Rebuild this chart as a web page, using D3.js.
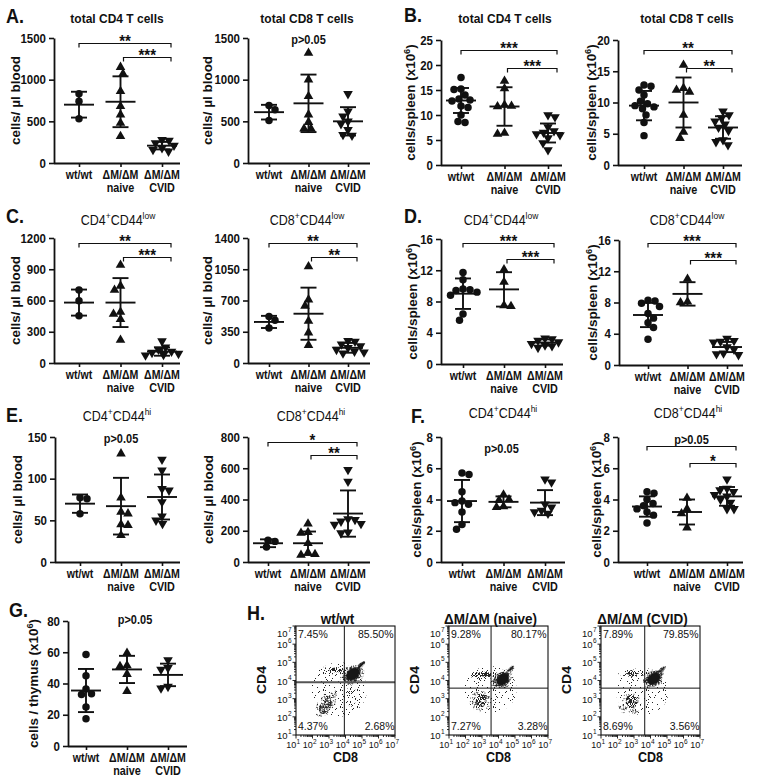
<!DOCTYPE html>
<html><head><meta charset="utf-8">
<script src="https://cdn.jsdelivr.net/npm/d3@7/dist/d3.min.js"></script>
<style>
html,body{margin:0;padding:0;background:#fff;}
svg{display:block;font-family:Arial,"Liberation Sans",Helvetica,sans-serif;}
</style></head><body>
<svg id="fig" width="757" height="779" viewBox="0 0 757 779"></svg>
<script>
// ================= DATA =================
const groups = ["wt/wt", "ΔM/ΔM naive", "ΔM/ΔM CVID"];
const groupLine1 = ["wt/wt", "ΔM/ΔM", "ΔM/ΔM"];
const groupLine2 = ["", "naive", "CVID"];

const ticksA = [0, 500, 1000, 1500];
const ticksB1 = [0, 5, 10, 15, 20, 25];
const ticksB2 = [0, 5, 10, 15, 20];
const ticksC1 = [0, 300, 600, 900, 1200];
const ticksC2 = [0, 350, 700, 1050, 1400];
const ticksD = [0, 4, 8, 12, 16];
const ticksE1 = [0, 50, 100, 150];
const ticksE2 = [0, 200, 400, 600, 800];
const ticksF = [0, 2, 4, 6, 8];
const ticksG = [0, 20, 40, 60, 80];

// A: blood, total CD4 / CD8
const ptsA1 = [[830, 740, 530], [1150, 1070, 860, 680, 580, 480, 320], [280, 270, 240, 210, 180, 160, 140]];
const meanA1 = [700, 735, 208];
const sdA1 = [155, 305, 45];
const sigA1 = [[0, 2, 1440, "**"], [1, 2, 1272, "***"]];

const ptsA2 = [[690, 640, 510], [1320, 1000, 800, 580, 490, 410, 410], [830, 620, 560, 500, 470, 400, 340, 330]];
const meanA2 = [610, 716, 500];
const sdA2 = [88, 345, 170];
const noteA2 = [1, 1428, "p>0.05"];

// B: spleen, total CD4 / CD8 (x10^6)
const ptsB1 = [[17.5, 15.2, 15.1, 14.0, 13.2, 13.0, 12.8, 11.8, 11.5, 10.0, 8.7, 8.5], [16.8, 15.3, 12.0, 11.8, 11.7, 6.4, 6.2], [10.0, 9.6, 7.6, 6.8, 6.5, 6.2, 6.0, 5.4, 4.4, 3.0]];
const meanB1 = [12.9, 11.7, 6.4];
const sdB1 = [2.5, 3.85, 1.9];
const sigB1 = [[0, 2, 23, "***"], [1, 2, 19.4, "***"]];

const ptsB2 = [[12.8, 12.6, 12.0, 11.2, 10.2, 9.8, 9.5, 9.3, 9.0, 8.0, 6.8, 4.7], [16.0, 12.3, 12.0, 11.7, 8.0, 5.3, 4.3], [8.6, 8.0, 7.5, 7.0, 6.5, 6.0, 5.5, 4.0, 3.7, 3.2]];
const meanB2 = [9.5, 10.0, 6.0];
const sdB2 = [2.35, 4.0, 1.8];
const sigB2 = [[0, 2, 18.4, "**"], [1, 2, 15.5, "**"]];

// C: blood CD44low
const ptsC1 = [[700, 598, 454], [940, 740, 700, 490, 470, 420, 220], [210, 150, 130, 110, 100, 90, 80, 75]];
const meanC1 = [580, 580, 110];
const sdC1 = [125, 235, 40];
const sigC1 = [[0, 2, 1152, "**"], [1, 2, 1018, "***"]];

const ptsC2 = [[520, 478, 392], [1080, 710, 640, 470, 340, 200], [250, 240, 210, 190, 170, 150, 130, 120, 110]];
const meanC2 = [460, 552, 170];
const sdC2 = [68, 292, 55];
const sigC2 = [[0, 2, 1344, "**"], [1, 2, 1187, "**"]];

// D: spleen CD44low
const ptsD1 = [[11.7, 10.8, 9.6, 9.5, 9.4, 9.2, 8.8, 6.4, 5.6], [12.1, 10.5, 7.5, 7.4], [3.3, 3.2, 3.0, 2.8, 2.6, 2.4, 2.3, 2.1]];
const meanD1 = [9.0, 9.55, 2.75];
const sdD1 = [1.95, 2.2, 0.4];
const sigD1 = [[0, 2, 15.5, "***"], [1, 2, 13.4, "***"]];

const ptsD2 = [[8.3, 8.2, 7.9, 7.5, 6.6, 6.0, 5.4, 4.8, 3.3], [11.0, 8.1, 8.0], [3.4, 3.1, 3.0, 2.9, 2.3, 2.0, 1.5, 1.4, 1.3]];
const meanD2 = [6.4, 9.1, 2.3];
const sdD2 = [1.55, 1.5, 0.65];
const sigD2 = [[0, 2, 15.6, "***"], [1, 2, 13.4, "***"]];

// E: blood CD44hi
const ptsE1 = [[77, 76, 58], [130, 77, 60, 58, 45, 44, 32], [123, 110, 88, 86, 72, 55, 50, 46]];
const meanE1 = [70, 67, 78];
const sdE1 = [11, 34, 27];
const noteE1 = [1, 143, "p>0.05"];

const ptsE2 = [[140, 132, 96], [245, 190, 185, 120, 60, 50, 45], [590, 515, 275, 270, 260, 245, 240, 190, 185]];
const meanE2 = [120, 120, 310];
const sdE2 = [25, 75, 148];
const sigE2 = [[0, 2, 768, "*"], [1, 2, 685, "**"]];

// F: spleen CD44hi
const ptsF1 = [[5.7, 5.6, 4.5, 3.9, 3.8, 3.7, 3.2, 2.4, 2.1], [4.3, 4.0, 3.95, 3.55, 3.5], [5.3, 5.1, 3.7, 3.5, 3.3, 3.2, 3.1]];
const meanF1 = [3.9, 3.85, 3.8];
const sdF1 = [1.35, 0.35, 0.8];
const noteF1 = [1, 6.98, "p>0.05"];

const ptsF2 = [[4.5, 4.4, 4.0, 3.75, 3.6, 3.4, 3.2, 3.0, 2.5], [4.1, 3.4, 3.1, 2.2], [5.3, 4.7, 4.6, 4.5, 4.3, 4.2, 4.0, 3.8, 3.4, 3.4]];
const meanF2 = [3.55, 3.2, 4.2];
const sdF2 = [0.65, 0.8, 0.6];
const sigF2 = [[0, 2, 7.42, "p>0.05"], [1, 2, 6.34, "*"]];

// G: thymus
const ptsG = [[58.5, 45, 36.5, 33.5, 33, 25, 17.5], [59.5, 51.5, 51, 46, 35], [55, 50, 49, 38, 37]];
const meanG = [35.5, 49, 45.5];
const sdG = [13.8, 8.7, 7.2];
const noteG = [1, 78, "p>0.05"];

// titles / labels
const titleTotCD4 = [["total CD4 T cells"]];
const titleTotCD8 = [["total CD8 T cells"]];
const titleCD4low = [["CD4"], ["+", 1], ["CD44"], ["low", 1]];
const titleCD8low = [["CD8"], ["+", 1], ["CD44"], ["low", 1]];
const titleCD4hi = [["CD4"], ["+", 1], ["CD44"], ["hi", 1]];
const titleCD8hi = [["CD8"], ["+", 1], ["CD44"], ["hi", 1]];
const ylabBlood = [["cells/ µl blood"]];
const ylabSpleen = [["cells/spleen (x10"], ["6", 1], [")"]];
const ylabThymus = [["cells / thymus (x10"], ["6", 1], [")"]];

// H: flow cytometry (log10 CD8, log10 CD4)
const flowTitles = ["wt/wt", "ΔM/ΔM (naive)", "ΔM/ΔM (CVID)"];
const flowPct = [["7.45%", "85.50%", "4.37%", "2.68%"], ["9.28%", "80.17%", "7.27%", "3.28%"], ["7.89%", "79.85%", "8.69%", "3.56%"]];
const flowGates = [[3.93, 3.9], [3.55, 3.58], [3.65, 3.58]];
const flowDecades = [1, 2, 3, 4, 5, 6, 7];
// event clusters: [centre log CD8, centre log CD4, half-width (decades), half-height (decades), tilt deg, density level]
const flowClustersWt = [
  [3.6, 3.5, 1.7, 1.5, 0, 0], [2.85, 2.75, 0.95, 0.45, 55, 1], [2.8, 2.6, 0.55, 0.3, 55, 2], [4.35, 3.15, 0.3, 0.6, 0, 1],
  [3.2, 4.55, 0.85, 0.2, 0, 1], [3.45, 4.58, 0.42, 0.13, 0, 2], [4.4, 4.3, 0.8, 0.55, 35, 1],
  [4.4, 4.3, 0.62, 0.44, 38, 2],
  [4.85, 4.75, 0.45, 0.13, 45, 2], [4.45, 4.35, 0.46, 0.31, 40, 3], [4.95, 4.85, 0.3, 0.07, 45, 3]];
const flowClustersNaive = [
  [3.5, 3.5, 1.6, 1.3, 0, 0], [2.9, 2.85, 0.65, 0.6, 30, 1], [2.95, 2.9, 0.32, 0.38, 0, 2],
  [4.2, 3.05, 0.35, 0.45, 0, 0], [3.05, 4.3, 0.85, 0.22, 0, 1], [3.1, 4.35, 0.48, 0.13, 0, 2],
  [4.2, 4.05, 0.75, 0.5, 35, 1], [4.2, 4.05, 0.58, 0.4, 38, 2],
  [4.65, 4.5, 0.45, 0.12, 45, 2], [4.25, 4.05, 0.42, 0.29, 40, 3], [4.75, 4.65, 0.22, 0.06, 45, 3]];
const flowClustersCvid = [
  [3.5, 3.4, 1.6, 1.3, 0, 0], [2.75, 2.7, 0.7, 0.6, 30, 1], [2.85, 2.85, 0.36, 0.36, 0, 2],
  [4.15, 3.0, 0.3, 0.5, 0, 0], [2.9, 4.4, 0.85, 0.2, 0, 1], [2.9, 4.42, 0.42, 0.11, 0, 2],
  [4.2, 4.1, 0.7, 0.5, 35, 1], [4.2, 4.1, 0.58, 0.4, 38, 2],
  [4.6, 4.5, 0.45, 0.12, 45, 2], [4.2, 4.1, 0.43, 0.3, 40, 3], [4.7, 4.6, 0.22, 0.06, 45, 3]];

// ================= LAYOUT =================
const S = 1.12; // vertical stretch of the original lettering
const INK = "#111";
const svg = d3.select("#fig");

function drawText(g, x, y, parts, o = {}) {
  const size = o.size || 12;
  const sc = o.stretch === undefined ? S : o.stretch;
  const t = g.append("text")
    .attr("transform", o.rot ? `translate(${x},${y}) rotate(-90) scale(${sc},1)` : `translate(${x},${y}) scale(1,${sc})`)
    .attr("text-anchor", o.anchor || "middle")
    .attr("font-size", size)
    .attr("font-weight", o.weight || "bold")
    .attr("fill", INK);
  let cur = 0;
  parts.forEach(([s, sup]) => {
    const target = sup ? -0.42 * size : 0;
    const ts = t.append("tspan").text(s).attr("dy", target - cur);
    if (sup) ts.attr("font-size", size * 0.68);
    cur = target;
  });
  return t;
}

function swarm(ys, d) {
  const idx = ys.map((_, i) => i).sort((a, b) => ys[a] - ys[b]);
  const placed = [], offs = new Array(ys.length).fill(0);
  idx.forEach((i, k) => {
    let found = false;
    for (let s = 0; s < 60 && !found; s += 0.5) {
      const cands = s === 0 ? [0] : (k % 2 ? [s, -s] : [-s, s]);
      for (const c of cands) {
        if (placed.every(p => (p.x - c) ** 2 + (p.y - ys[i]) ** 2 >= d * d)) { offs[i] = c; found = true; break; }
      }
    }
    placed.push({ x: offs[i], y: ys[i] });
  });
  return offs;
}

const symbols = [
  d3.symbol(d3.symbolCircle, 44)(),
  d3.symbol(d3.symbolTriangle, 40)(),
  d3.symbol(d3.symbolTriangle, 40)()
];

function dotPanel(p) {
  const L = p.lay;
  const g = svg.append("g");
  const max = p.ticks[p.ticks.length - 1];
  const y = d3.scaleLinear().domain([0, max]).range([L.bot, L.top]);
  const x = d3.scalePoint().domain(groups).range([L.c0, L.c2]);

  const ya = g.append("g").attr("transform", `translate(${L.ax},0)`)
    .call(d3.axisLeft(y).tickValues(p.ticks).tickSize(5).tickSizeOuter(0).tickPadding(3).tickFormat(d3.format("d")));
  ya.attr("font-family", null).attr("font-size", 11.5).attr("font-weight", "bold");
  ya.select(".domain").attr("stroke", INK).attr("stroke-width", 1.8);
  ya.selectAll(".tick line").attr("stroke", INK).attr("stroke-width", 1.6);
  ya.selectAll(".tick text").attr("fill", INK).attr("transform", `scale(1,${S})`);

  g.append("line").attr("x1", L.ax).attr("x2", L.end).attr("y1", L.bot + 0.5).attr("y2", L.bot + 0.5)
    .attr("stroke", INK).attr("stroke-width", 1.8);
  const xa = g.append("g").attr("transform", `translate(0,${L.bot})`)
    .call(d3.axisBottom(x).tickSize(4).tickSizeOuter(0).tickFormat(""));
  xa.select(".domain").remove();
  xa.selectAll(".tick line").attr("stroke", INK).attr("stroke-width", 1.6);

  groups.forEach((gr, i) => {
    drawText(g, x(gr), L.bot + 16, [[groupLine1[i]]], { size: 10.6, stretch: 1.2 });
    if (groupLine2[i]) drawText(g, x(gr), L.bot + 29, [[groupLine2[i]]], { size: 10.8, stretch: 1.2 });
  });

  // title & y label
  if (p.title) drawText(g, L.tx, L.ty, p.title, { size: p.titleBold ? 12 : 12.5, weight: p.titleBold ? "bold" : "normal" });
  drawText(g, L.yl, (L.top + L.bot) / 2, p.ylab, { size: 12, rot: true });

  // points
  groups.forEach((gr, i) => {
    const vals = p.pts[i];
    const offs = swarm(vals.map(v => y(v)), 7);
    g.selectAll(null).data(vals).join("path")
      .attr("d", symbols[i])
      .attr("transform", (v, j) => `translate(${x(gr) + offs[j]},${y(v)})${i === 2 ? " rotate(180)" : ""}`)
      .attr("fill", INK);
  });

  // mean ± SD
  groups.forEach((gr, i) => {
    const cx = x(gr), m = p.mean[i], s = p.sd[i];
    const eb = g.append("g").attr("stroke", INK).attr("stroke-width", 1.9).attr("fill", "none");
    eb.append("line").attr("x1", cx).attr("x2", cx).attr("y1", y(m - s)).attr("y2", y(m + s));
    eb.append("line").attr("x1", cx - 8).attr("x2", cx + 8).attr("y1", y(m + s)).attr("y2", y(m + s));
    eb.append("line").attr("x1", cx - 8).attr("x2", cx + 8).attr("y1", y(m - s)).attr("y2", y(m - s));
    eb.append("line").attr("x1", cx - 15).attr("x2", cx + 15).attr("y1", y(m)).attr("y2", y(m));
  });

  // significance brackets
  (p.sig || []).forEach(([a, b, v, lab]) => {
    const x1 = x(groups[a]) + (a === 1 ? 3 : 0), x2 = x(groups[b]) + 9, yy = Math.round(y(v)) + 0.5;
    g.append("path").attr("d", `M${x1},${yy + 4}V${yy}H${x2}V${yy + 4}`)
      .attr("fill", "none").attr("stroke", INK).attr("stroke-width", 1.2);
    const star = lab.startsWith("*");
    drawText(g, (x1 + x2) / 2, star ? yy + 3.5 : yy - 3, [[lab]], { size: star ? 15 : 11 });
  });
  if (p.note) {
    const [gi, v, lab] = p.note;
    drawText(g, x(groups[gi]) + (L.ndx || 0), y(v), [[lab]], { size: 11 });
  }
}

const panels = [
  { lay: { ax: 54, end: 180, c0: 79, c2: 162, top: 38, bot: 163, yl: 20, tx: 117, ty: 23 }, ticks: ticksA, pts: ptsA1, mean: meanA1, sd: sdA1, sig: sigA1, title: titleTotCD4, titleBold: true, ylab: ylabBlood },
  { lay: { ax: 248, end: 370, c0: 269, c2: 348, top: 38, bot: 163, yl: 212, tx: 307, ty: 23 }, ticks: ticksA, pts: ptsA2, mean: meanA2, sd: sdA2, note: noteA2, title: titleTotCD8, titleBold: true, ylab: ylabBlood },
  { lay: { ax: 441, end: 562, c0: 461, c2: 548, top: 40, bot: 165, yl: 415, tx: 505, ty: 23 }, ticks: ticksB1, pts: ptsB1, mean: meanB1, sd: sdB1, sig: sigB1, title: titleTotCD4, titleBold: true, ylab: ylabSpleen },
  { lay: { ax: 618, end: 742, c0: 644, c2: 723, top: 40, bot: 165, yl: 596, tx: 687, ty: 23 }, ticks: ticksB2, pts: ptsB2, mean: meanB2, sd: sdB2, sig: sigB2, title: titleTotCD8, titleBold: true, ylab: ylabSpleen },
  { lay: { ax: 54, end: 180, c0: 79, c2: 162, top: 238, bot: 363, yl: 20, tx: 118, ty: 225 }, ticks: ticksC1, pts: ptsC1, mean: meanC1, sd: sdC1, sig: sigC1, title: titleCD4low, ylab: ylabBlood },
  { lay: { ax: 248, end: 370, c0: 269, c2: 348, top: 238, bot: 363, yl: 212, tx: 307, ty: 225 }, ticks: ticksC2, pts: ptsC2, mean: meanC2, sd: sdC2, sig: sigC2, title: titleCD8low, ylab: ylabBlood },
  { lay: { ax: 441, end: 563, c0: 463, c2: 545, top: 239, bot: 364, yl: 417, tx: 501, ty: 225 }, ticks: ticksD, pts: ptsD1, mean: meanD1, sd: sdD1, sig: sigD1, title: titleCD4low, ylab: ylabSpleen },
  { lay: { ax: 619, end: 743, c0: 648, c2: 727, top: 240, bot: 365, yl: 597, tx: 687, ty: 225 }, ticks: ticksD, pts: ptsD2, mean: meanD2, sd: sdD2, sig: sigD2, title: titleCD8low, ylab: ylabSpleen },
  { lay: { ax: 55, end: 180, c0: 80, c2: 162, top: 437, bot: 562, yl: 22, tx: 117, ty: 421 }, ticks: ticksE1, pts: ptsE1, mean: meanE1, sd: sdE1, note: noteE1, title: titleCD4hi, ylab: ylabBlood },
  { lay: { ax: 248, end: 370, c0: 268, c2: 348, top: 437, bot: 562, yl: 213, tx: 311, ty: 421 }, ticks: ticksE2, pts: ptsE2, mean: meanE2, sd: sdE2, sig: sigE2, title: titleCD8hi, ylab: ylabBlood },
  { lay: { ax: 441, end: 565, c0: 462, c2: 545, top: 437, bot: 562, yl: 421, tx: 503, ty: 418, ndx: -2 }, ticks: ticksF, pts: ptsF1, mean: meanF1, sd: sdF1, note: noteF1, title: titleCD4hi, ylab: ylabSpleen },
  { lay: { ax: 618, end: 743, c0: 647, c2: 727, top: 437, bot: 562, yl: 601, tx: 688, ty: 418 }, ticks: ticksF, pts: ptsF2, mean: meanF2, sd: sdF2, sig: sigF2, title: titleCD8hi, ylab: ylabSpleen },
  { lay: { ax: 68, end: 187, c0: 86, c2: 168, top: 621, bot: 746, yl: 38, ndx: 8 }, ticks: ticksG, pts: ptsG, mean: meanG, sd: sdG, note: noteG, title: null, ylab: ylabThymus },
];
panels.forEach(dotPanel);

// panel letters
[["A.", 6, 23], ["B.", 404, 22], ["C.", 6, 223], ["D.", 404, 223], ["E.", 6, 422], ["F.", 411, 423], ["G.", 9, 617], ["H.", 247, 620]]
  .forEach(([s, x, y]) => drawText(svg, x, y, [[s]], { size: 18, anchor: "start" }));

// ================= FLOW PLOTS =================
const defs = svg.append("defs");
// stipple textures (irregular speckle, one per density level)
function speck(x, y, seed) {
  let h = (x * 374761393 + y * 668265263 + seed * 982451653) | 0;
  h = Math.imul(h ^ (h >>> 13), 1274126177);
  h = h ^ (h >>> 16);
  return ((h >>> 0) % 10000) / 10000;
}
[[17, 0.06, 1], [13, 0.22, 2], [11, 0.5, 3]].forEach(([T, dens, seed], lev) => {
  const pat = defs.append("pattern").attr("id", "stip" + lev).attr("patternUnits", "userSpaceOnUse")
    .attr("width", T).attr("height", T);
  for (let yy = 0; yy < T; yy++) for (let xx = 0; xx < T; xx++) {
    if (speck(xx, yy, seed) < dens) {
      pat.append("rect").attr("x", xx).attr("y", yy).attr("width", 1).attr("height", 1)
        .attr("fill", "#262626").attr("shape-rendering", "crispEdges");
    }
  }
});
defs.append("filter").attr("id", "soft").attr("x", "-30%").attr("y", "-30%").attr("width", "160%").attr("height", "160%")
  .append("feGaussianBlur").attr("stdDeviation", 0.7);

const flowLay = [
  { left: 296, right: 395, top: 626, bottom: 735, cd4x: 266, tdx: -8, hGate: { w: 2, c: "#555" } },
  { left: 449, right: 548, top: 626, bottom: 735, cd4x: 419, tdx: -8, hGate: { w: 1, c: INK } },
  { left: 601, right: 700, top: 626, bottom: 735, cd4x: 571, tdx: -8, hGate: { w: 1, c: INK } },
];
const flowClusters = [flowClustersWt, flowClustersNaive, flowClustersCvid];

flowLay.forEach((F, pi) => {
  const g = svg.append("g");
  const xs = d3.scaleLog().domain([10, 1e7]).range([F.left, F.right]);
  const ys = d3.scaleLog().domain([10, 1e7]).range([F.bottom, F.top]);
  const decX = xs(100) - xs(10), decY = ys(10) - ys(100);
  const cid = "clipf" + pi;
  defs.append("clipPath").attr("id", cid).append("rect")
    .attr("x", F.left).attr("y", F.top).attr("width", F.right - F.left).attr("height", F.bottom - F.top);
  const cg = g.append("g").attr("clip-path", `url(#${cid})`);
  flowClusters[pi].slice().sort((a, b) => a[5] - b[5]).forEach(([cx, cy, rx, ry, ang, lev]) => {
    const px = xs(10 ** cx), py = ys(10 ** cy);
    const e = cg.append("ellipse").attr("cx", px).attr("cy", py).attr("rx", rx * decX).attr("ry", ry * decY)
      .attr("transform", `rotate(${-ang},${px},${py})`)
      .attr("fill", lev === 3 ? "#161616" : `url(#stip${lev})`);
    if (lev === 3) e.attr("filter", "url(#soft)");
  });
  // gates
  const [gx, gy] = flowGates[pi];
  g.append("line").attr("x1", xs(10 ** gx)).attr("x2", xs(10 ** gx)).attr("y1", F.top).attr("y2", F.bottom)
    .attr("stroke", INK).attr("stroke-width", 1);
  g.append("line").attr("x1", F.left).attr("x2", F.right).attr("y1", ys(10 ** gy)).attr("y2", ys(10 ** gy))
    .attr("stroke", F.hGate.c).attr("stroke-width", F.hGate.w);
  // frame
  g.append("rect").attr("x", F.left).attr("y", F.top).attr("width", F.right - F.left).attr("height", F.bottom - F.top)
    .attr("fill", "none").attr("stroke", INK).attr("stroke-width", 1.1);
  // ticks
  const majors = flowDecades.map(e => 10 ** e);
  const minors = [];
  flowDecades.slice(0, -1).forEach(e => d3.range(2, 10).forEach(m => minors.push(m * 10 ** e)));
  const tg = g.append("g").attr("stroke", INK).attr("stroke-width", 0.9);
  majors.forEach(v => {
    tg.append("line").attr("x1", xs(v)).attr("x2", xs(v)).attr("y1", F.bottom).attr("y2", F.bottom + 3.5);
    tg.append("line").attr("x1", F.left - 3.5).attr("x2", F.left).attr("y1", ys(v)).attr("y2", ys(v));
  });
  minors.forEach(v => {
    tg.append("line").attr("x1", xs(v)).attr("x2", xs(v)).attr("y1", F.bottom).attr("y2", F.bottom + 2);
    tg.append("line").attr("x1", F.left - 2).attr("x2", F.left).attr("y1", ys(v)).attr("y2", ys(v));
  });
  // tick labels
  flowDecades.forEach(e => {
    const tx = xs(10 ** e);
    g.append("text").attr("x", tx + 0.3).attr("y", F.bottom + 13).attr("text-anchor", "end")
      .attr("font-size", 9).attr("fill", INK).text("10");
    g.append("text").attr("x", tx + 0.6).attr("y", F.bottom + 8.5).attr("text-anchor", "start")
      .attr("font-size", 6.5).attr("fill", INK).text(e);
    const ty = Math.max(ys(10 ** e) + 4, F.top + 11);
    g.append("text").attr("x", F.left - 8.5).attr("y", ty).attr("text-anchor", "end")
      .attr("font-size", 9.5).attr("fill", INK).text("10");
    g.append("text").attr("x", F.left - 8).attr("y", ty - 5).attr("text-anchor", "start")
      .attr("font-size", 6.5).attr("fill", INK).text(e);
  });
  // axis titles
  drawText(g, (F.left + F.right) / 2, F.bottom + 27, [["CD8"]], { size: 12.5 });
  drawText(g, F.cd4x, 680, [["CD4"]], { size: 12.5, rot: true });
  drawText(g, (F.left + F.right) / 2 + F.tdx, F.top - 2, [[flowTitles[pi]]], { size: 13.5, stretch: 1.05 });
  // quadrant percentages
  const [tl, tr, bl, br] = flowPct[pi];
  const po = { size: 10.5, weight: "normal", stretch: 1.1 };
  drawText(g, F.left + 2, F.top + 12, [[tl]], { ...po, anchor: "start" });
  drawText(g, F.right - 1.5, F.top + 12, [[tr]], { ...po, anchor: "end" });
  drawText(g, F.left + 2, F.bottom - 5, [[bl]], { ...po, anchor: "start" });
  drawText(g, F.right - 0.5, F.bottom - 5, [[br]], { ...po, anchor: "end" });
});
</script>
</body></html>
